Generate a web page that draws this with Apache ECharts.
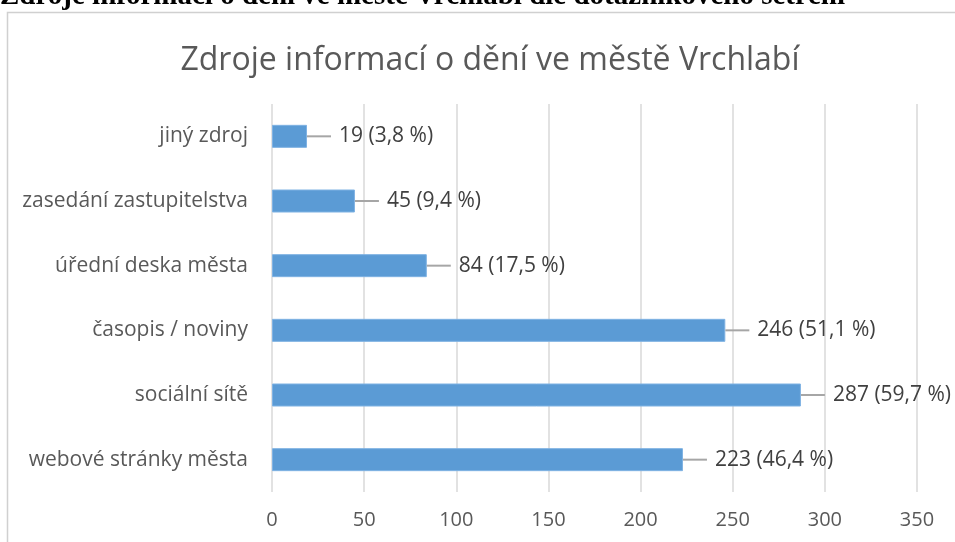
<!DOCTYPE html>
<html><head><meta charset="utf-8">
<script src="https://cdn.jsdelivr.net/npm/echarts@6/dist/echarts.min.js"></script>
<style>html,body{margin:0;padding:0;background:#fff}#c{width:955px;height:542px}</style>
</head><body><div id="c"></div>
<script>
const categories = ["webové stránky města","sociální sítě","časopis / noviny","úřední deska města","zasedání zastupitelstva","jiný zdroj"];
const values = [223, 287, 246, 84, 45, 19];
const percents = ["46,4","59,7","51,1","17,5","9,4","3,8"];
const xTicks = [0,50,100,150,200,250,300,350];

const chart = echarts.init(document.getElementById('c'));
const font = '"Open Sans", Lato, sans-serif';
chart.setOption({
  animation:false,
  graphic:[
    {type:'rect', shape:{x:7.5,y:12.5,width:960,height:540}, style:{fill:'none',stroke:'#d0d0d0',lineWidth:1.5}, z:-1},
    {type:'text', left:0, top:-18, style:{text:'Zdroje informací o dění ve městě Vrchlabí dle dotazníkového šetření', font:'bold 29px "Liberation Serif", serif', fill:'#000'}}
  ],
  title:{text:'Zdroje informací o dění ve městě Vrchlabí', left:485, textAlign:'center', top:40,
    textStyle:{fontFamily:font, fontSize:32, fontWeight:'normal', color:'#595959'}},
  grid:{left:272, right:38, top:104, bottom:50, containLabel:false},
  xAxis:{type:'value', min:0, max:350, interval:50,
    axisLine:{show:false}, axisTick:{show:false},
    splitLine:{lineStyle:{color:'#d9d9d9', width:1.5}},
    axisLabel:{color:'#595959', fontFamily:font, fontSize:20, margin:18,
      formatter:v=>xTicks.includes(v)?String(v):''}},
  yAxis:{type:'category', data:categories,
    axisLine:{show:false}, axisTick:{show:false},
    axisLabel:{color:'#595959', fontFamily:font, fontSize:21, margin:24}},
  series:[{type:'bar', data:values, barWidth:23,
    itemStyle:{color:'#5b9bd5', borderColor:'#7fb2e3', borderWidth:1},
    label:{show:true, position:'right', distance:0,
      formatter:p=>'{ln|}{t|' + p.value + ' (' + percents[p.dataIndex] + ' %)}',
      rich:{
        ln:{width:24, height:2, backgroundColor:'#a6a6a6', verticalAlign:'middle'},
        t:{color:'#404040', fontFamily:font, fontSize:21, padding:[0,0,0,8]}
      }}
  }]
});
</script></body></html>
